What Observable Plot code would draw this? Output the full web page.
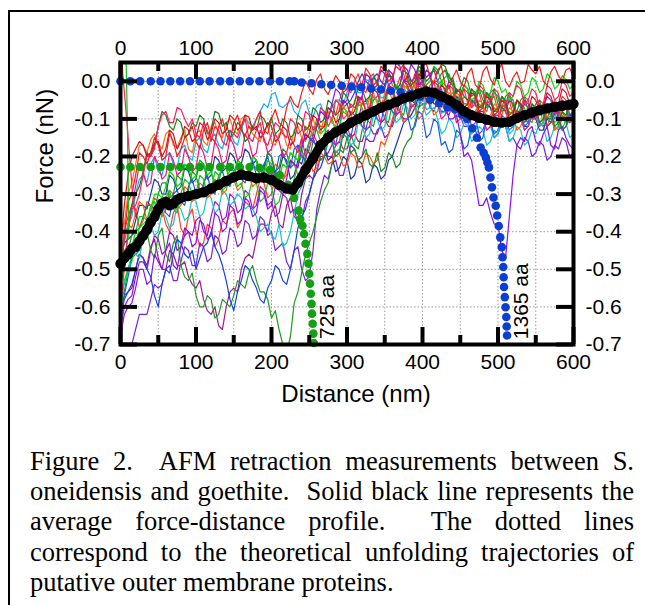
<!DOCTYPE html>
<html><head><meta charset="utf-8">
<script src="https://cdn.jsdelivr.net/npm/d3@7"></script>
<script src="https://cdn.jsdelivr.net/npm/@observablehq/plot@0.6"></script>
<style>
body{margin:0;background:#fff;width:645px;height:605px;overflow:hidden;position:relative}
#frame{position:absolute;left:8px;top:10px;width:700px;height:700px;border-left:2px solid #000;border-top:2px solid #000;box-sizing:border-box}
#chart{position:absolute;left:0;top:0}
#caption{position:absolute;left:30px;top:446px;width:604px;font-family:"Liberation Serif","Times New Roman",serif;font-size:26.5px;line-height:30.2px;color:#000}
#caption div{text-align:justify;text-align-last:justify}
#caption div.last{text-align-last:left}
</style></head><body>
<div id="frame"></div>
<div id="chart"></div>
<div id="caption">
<div>Figure 2.&nbsp; AFM retraction measurements between S.</div>
<div>oneidensis and goethite.&nbsp; Solid black line represents the</div>
<div>average force-distance profile.&nbsp; The dotted lines</div>
<div>correspond to the theoretical unfolding trajectories of</div>
<div class="last">putative outer membrane proteins.</div>
</div>
<script>
// ---- data ----
const distance = [0,10,20,30,40,50,60,70,80,90,100,110,120,130,140,150,160,170,180,190,200,210,220,230,240,250,260,270,280,290,300,310,320,330,340,350,360,370,380,390,400,410,420,430,440,450,460,470,480,490,500,510,520,530,540,550,560,570,580,590,600];
const distanceMid = [5,15,25,35,45,55,65,75,85,95,105,115,125,135,145,155,165,175,185,195,205,215,225,235,245,255,265,275,285,295,305,315,325,335,345,355,365,375,385,395,405,415,425,435,445,455,465,475,485,495,505,515,525,535,545,555,565,575,585,595];
const distanceTicks = [0,100,200,300,400,500,600];
const distanceMinorTicks = [50,150,250,350,450,550];
const gridDistance = [50,100,150,200,250,300,350,400,450,500,550];
const forceTicks = [0,-0.1,-0.2,-0.3,-0.4,-0.5,-0.6,-0.7];
const gridForce = [0,-0.1,-0.2,-0.3,-0.4,-0.5,-0.6];

const forceRed = [-0.55,-0.32,-0.25,-0.2,-0.19,-0.17,-0.2,-0.16,-0.18,-0.14,-0.16,-0.13,-0.15,-0.12,-0.14,-0.11,-0.13,-0.12,-0.1,-0.13,-0.1,-0.11,-0.07,-0.06,-0.03,-0.02,0.005,-0.02,-0.01,0.0,-0.02,0.01,-0.01,0.02,0.0,0.03,0.01,0.03,0.0,0.02,0.04,0.01,0.03,-0.01,0.01,0.0,0.02,-0.01,0.025,0.005,0.03,0.0,0.01,-0.005,0.045,0.02,0.0,0.025,0.015,0.03,0.01];
const forceRedMid = [-0.41,-0.3,-0.19,-0.22,-0.15,-0.21,-0.14,-0.2,-0.15,-0.12,-0.18,-0.11,-0.16,-0.1,-0.16,-0.09,-0.145,-0.13,-0.08,-0.14,-0.075,-0.12,-0.04,-0.07,0.0,-0.035,0.02,-0.035,0.015,-0.03,0.02,-0.02,0.035,-0.01,0.04,0.0,0.04,0.045,-0.015,0.01,0.048,-0.005,0.04,-0.02,0.03,-0.015,0.035,-0.02,0.04,-0.01,0.045,-0.015,0.025,0.0,0.03,0.04,-0.01,0.04,0.0,0.035];
const forceCrimson = [-0.6,-0.4,-0.33,-0.25,-0.2,-0.12,-0.08,-0.11,-0.075,-0.12,-0.14,-0.11,-0.16,-0.13,-0.17,-0.14,-0.12,-0.15,-0.13,-0.16,-0.14,-0.12,-0.15,-0.11,-0.13,-0.09,-0.12,-0.08,-0.1,-0.06,-0.09,-0.07,-0.04,-0.07,-0.03,-0.05,-0.02,-0.04,-0.01,-0.03,0.0,-0.03,-0.01,-0.04,-0.02,-0.05,-0.03,-0.06,-0.02,-0.05,-0.03,-0.06,-0.04,-0.02,-0.05,-0.03,-0.06,-0.02,-0.04,-0.01,-0.03];
const forceCrimsonMid = [-0.5,-0.34,-0.3,-0.2,-0.18,-0.09,-0.11,-0.07,-0.1,-0.1,-0.15,-0.13,-0.12,-0.16,-0.13,-0.15,-0.1,-0.16,-0.11,-0.17,-0.11,-0.14,-0.1,-0.14,-0.08,-0.13,-0.07,-0.12,-0.05,-0.1,-0.06,-0.06,-0.08,-0.02,-0.06,-0.01,-0.05,0.0,-0.04,0.01,-0.04,0.0,-0.05,-0.01,-0.06,-0.02,-0.07,-0.01,-0.06,-0.02,-0.07,-0.03,-0.01,-0.06,-0.02,-0.07,-0.01,-0.05,0.0,-0.04];
const forceDarkRed = [-0.45,-0.25,-0.18,-0.17,-0.19,-0.16,-0.18,-0.14,-0.16,-0.13,-0.15,-0.12,-0.14,-0.11,-0.13,-0.1,-0.12,-0.095,-0.12,-0.14,-0.12,-0.15,-0.13,-0.16,-0.12,-0.14,-0.1,-0.12,-0.08,-0.1,-0.06,-0.08,-0.05,-0.07,-0.03,-0.05,-0.02,-0.04,-0.01,-0.03,0.01,-0.02,-0.04,-0.02,-0.05,-0.03,-0.06,-0.04,-0.07,-0.05,-0.08,-0.06,-0.09,-0.06,-0.08,-0.05,-0.07,-0.04,-0.06,-0.03,-0.05];
const forceDarkRedMid = [-0.33,-0.2,-0.16,-0.2,-0.165,-0.2,-0.13,-0.18,-0.12,-0.16,-0.11,-0.155,-0.1,-0.14,-0.09,-0.13,-0.09,-0.13,-0.15,-0.11,-0.16,-0.12,-0.17,-0.11,-0.155,-0.09,-0.13,-0.07,-0.11,-0.05,-0.09,-0.04,-0.08,-0.02,-0.06,-0.01,-0.05,0.0,-0.04,0.02,-0.03,-0.05,-0.01,-0.06,-0.02,-0.07,-0.03,-0.08,-0.04,-0.09,-0.05,-0.1,-0.05,-0.09,-0.04,-0.08,-0.03,-0.07,-0.02,-0.06];
const forceOrange = [-0.5,-0.3,-0.22,-0.17,-0.155,-0.165,-0.14,-0.17,-0.15,-0.18,-0.14,-0.16,-0.12,-0.14,-0.11,-0.13,-0.1,-0.12,-0.15,-0.13,-0.16,-0.14,-0.17,-0.13,-0.15,-0.11,-0.13,-0.09,-0.11,-0.07,-0.09,-0.05,-0.08,-0.04,-0.06,-0.03,-0.05,-0.02,-0.04,-0.01,-0.03,-0.05,-0.03,-0.06,-0.04,-0.07,-0.05,-0.08,-0.06,-0.09,-0.07,-0.1,-0.08,-0.06,-0.09,-0.07,-0.1,-0.08,-0.06,-0.09,-0.07];
const forceOrangeMid = [-0.38,-0.27,-0.17,-0.19,-0.14,-0.18,-0.13,-0.175,-0.13,-0.19,-0.13,-0.17,-0.11,-0.15,-0.1,-0.14,-0.09,-0.14,-0.16,-0.12,-0.17,-0.13,-0.18,-0.12,-0.16,-0.1,-0.14,-0.08,-0.12,-0.06,-0.1,-0.04,-0.09,-0.03,-0.07,-0.02,-0.06,-0.01,-0.05,0.0,-0.06,-0.02,-0.07,-0.03,-0.08,-0.04,-0.09,-0.05,-0.1,-0.06,-0.11,-0.07,-0.05,-0.1,-0.06,-0.11,-0.07,-0.05,-0.1,-0.06];
const forceOrangeLow = [-0.42,-0.38,-0.35,-0.33,-0.36,-0.32,-0.34,-0.3,-0.33,-0.29,-0.31,-0.28,-0.3,-0.27,-0.29,-0.26,-0.28,-0.25,-0.27,-0.24,-0.26,-0.23,-0.25,-0.22,-0.24,-0.21,-0.23,-0.2,-0.215,-0.195,-0.22,-0.2,-0.225,-0.2,-0.21,-0.17,-0.1,-0.08,-0.1,-0.07,-0.09,-0.06,-0.08,-0.05,-0.07,-0.04,-0.06,-0.09,-0.07,-0.1,-0.08,-0.11,-0.09,-0.12,-0.1,-0.08,-0.11,-0.09,-0.12,-0.1,-0.08];
const forceOrangeLowMid = [-0.37,-0.39,-0.32,-0.37,-0.31,-0.36,-0.29,-0.34,-0.28,-0.32,-0.27,-0.31,-0.26,-0.3,-0.25,-0.29,-0.24,-0.28,-0.23,-0.27,-0.22,-0.26,-0.21,-0.25,-0.2,-0.24,-0.19,-0.22,-0.185,-0.225,-0.19,-0.23,-0.19,-0.22,-0.16,-0.14,-0.07,-0.11,-0.06,-0.1,-0.05,-0.09,-0.04,-0.08,-0.03,-0.07,-0.1,-0.06,-0.11,-0.07,-0.12,-0.08,-0.13,-0.09,-0.07,-0.12,-0.08,-0.13,-0.09,-0.07];
const forceDarkGreen = [-0.55,-0.4,-0.3,-0.24,-0.2,-0.12,-0.09,-0.13,-0.11,-0.14,-0.12,-0.1,-0.13,-0.085,-0.11,-0.14,-0.12,-0.15,-0.13,-0.1,-0.095,-0.13,-0.11,-0.14,-0.1,-0.12,-0.08,-0.1,-0.06,-0.08,-0.04,-0.06,-0.02,-0.04,0.0,-0.02,0.01,-0.01,0.02,0.0,0.03,0.01,0.02,0.04,0.0,-0.02,-0.05,-0.03,-0.06,-0.04,-0.07,-0.05,-0.08,-0.06,-0.09,-0.07,-0.1,-0.08,-0.11,-0.09,-0.07];
const forceDarkGreenMid = [-0.49,-0.33,-0.28,-0.19,-0.17,-0.08,-0.12,-0.1,-0.15,-0.11,-0.09,-0.14,-0.08,-0.12,-0.15,-0.11,-0.16,-0.12,-0.09,-0.12,-0.14,-0.1,-0.15,-0.09,-0.13,-0.07,-0.11,-0.05,-0.09,-0.03,-0.07,-0.01,-0.05,0.01,-0.03,0.02,-0.02,0.03,-0.01,0.04,0.0,0.035,0.045,0.01,-0.03,-0.04,-0.02,-0.07,-0.03,-0.08,-0.04,-0.09,-0.05,-0.1,-0.06,-0.11,-0.07,-0.12,-0.08,-0.06];
const forceGreenDeep = [-0.58,-0.5,-0.46,-0.42,-0.45,-0.41,-0.46,-0.43,-0.49,-0.53,-0.57,-0.6,-0.58,-0.62,-0.59,-0.57,-0.54,-0.51,-0.53,-0.56,-0.63,-0.66,-0.72,-0.59,-0.51,-0.43,-0.36,-0.29,-0.22,-0.18,-0.15,-0.17,-0.13,-0.11,-0.08,-0.1,-0.06,-0.08,-0.04,-0.06,-0.02,-0.04,-0.01,-0.03,-0.05,-0.03,-0.06,-0.04,-0.07,-0.05,-0.08,-0.06,-0.09,-0.07,-0.1,-0.08,-0.11,-0.09,-0.12,-0.1,-0.08];
const forceGreenDeepMid = [-0.56,-0.47,-0.45,-0.4,-0.47,-0.39,-0.48,-0.41,-0.52,-0.51,-0.6,-0.57,-0.63,-0.58,-0.6,-0.53,-0.55,-0.49,-0.56,-0.58,-0.61,-0.7,-0.68,-0.56,-0.46,-0.4,-0.32,-0.27,-0.19,-0.19,-0.14,-0.18,-0.1,-0.12,-0.07,-0.11,-0.05,-0.09,-0.03,-0.07,-0.01,-0.05,0.0,-0.05,-0.02,-0.06,-0.02,-0.07,-0.03,-0.08,-0.04,-0.1,-0.05,-0.11,-0.06,-0.12,-0.07,-0.13,-0.08,-0.11];
const forceBrightGreen = [-0.62,-0.5,-0.43,-0.38,-0.34,-0.3,-0.28,-0.25,-0.27,-0.23,-0.25,-0.22,-0.24,-0.26,-0.23,-0.25,-0.22,-0.24,-0.21,-0.25,-0.22,-0.26,-0.23,-0.2,-0.17,-0.15,-0.11,-0.13,-0.1,-0.12,-0.09,-0.11,-0.07,-0.09,-0.05,-0.07,-0.03,-0.05,-0.02,-0.04,0.0,-0.02,-0.04,-0.01,-0.03,-0.05,-0.02,-0.04,-0.01,-0.03,0.0,-0.02,-0.04,-0.01,-0.03,0.0,-0.02,0.01,-0.01,0.005,-0.01];
const forceBrightGreenMid = [-0.53,-0.48,-0.39,-0.37,-0.3,-0.31,-0.24,-0.28,-0.22,-0.26,-0.21,-0.25,-0.27,-0.22,-0.26,-0.21,-0.25,-0.2,-0.26,-0.21,-0.27,-0.22,-0.19,-0.21,-0.14,-0.14,-0.14,-0.09,-0.13,-0.08,-0.12,-0.06,-0.1,-0.04,-0.08,-0.02,-0.06,-0.01,-0.05,0.01,-0.03,-0.05,0.0,-0.04,-0.06,-0.01,-0.05,0.0,-0.04,0.01,-0.03,-0.05,0.0,-0.04,0.01,-0.03,0.02,-0.02,0.015,-0.02];
const forceGreen2 = [-0.5,-0.44,-0.4,-0.36,-0.33,-0.36,-0.31,-0.34,-0.3,-0.27,-0.3,-0.26,-0.29,-0.25,-0.28,-0.24,-0.27,-0.3,-0.27,-0.31,-0.28,-0.32,-0.29,-0.26,-0.2,-0.16,-0.13,-0.15,-0.1,-0.12,-0.08,-0.1,-0.06,-0.04,-0.07,-0.03,-0.05,-0.02,0.01,-0.01,0.02,0.0,0.03,0.01,-0.01,-0.04,-0.02,-0.05,-0.03,-0.06,-0.04,-0.07,-0.05,-0.08,-0.1,-0.08,-0.11,-0.09,-0.12,-0.1,-0.08];
const forceGreen2Mid = [-0.45,-0.44,-0.36,-0.37,-0.32,-0.35,-0.29,-0.35,-0.26,-0.3,-0.25,-0.3,-0.24,-0.29,-0.23,-0.28,-0.31,-0.26,-0.32,-0.27,-0.33,-0.28,-0.3,-0.22,-0.19,-0.12,-0.16,-0.09,-0.13,-0.07,-0.11,-0.05,-0.06,-0.08,-0.02,-0.06,-0.01,0.0,-0.02,0.03,-0.01,0.04,0.0,0.02,-0.05,-0.01,-0.06,-0.02,-0.07,-0.03,-0.08,-0.04,-0.09,-0.07,-0.11,-0.07,-0.12,-0.08,-0.13,-0.07];
const forceSky = [-0.52,-0.38,-0.3,-0.25,-0.22,-0.24,-0.2,-0.22,-0.18,-0.2,-0.16,-0.18,-0.15,-0.17,-0.14,-0.16,-0.13,-0.11,-0.1,-0.06,-0.035,-0.065,-0.06,-0.08,-0.06,-0.085,-0.065,-0.09,-0.07,-0.05,-0.03,-0.01,-0.03,0.0,-0.02,-0.04,-0.02,-0.05,-0.03,-0.06,-0.04,-0.07,-0.05,-0.08,-0.06,-0.09,-0.11,-0.13,-0.1,-0.12,-0.14,-0.11,-0.13,-0.1,-0.12,-0.09,-0.11,-0.08,-0.1,-0.07,-0.09];
const forceSkyMid = [-0.42,-0.36,-0.26,-0.27,-0.2,-0.25,-0.19,-0.23,-0.17,-0.21,-0.15,-0.19,-0.14,-0.18,-0.13,-0.17,-0.1,-0.12,-0.08,-0.07,-0.03,-0.07,-0.05,-0.09,-0.05,-0.095,-0.06,-0.1,-0.05,-0.06,-0.005,-0.03,0.005,-0.025,-0.045,-0.01,-0.055,-0.02,-0.065,-0.03,-0.075,-0.04,-0.085,-0.05,-0.095,-0.1,-0.14,-0.09,-0.13,-0.15,-0.1,-0.14,-0.09,-0.13,-0.08,-0.12,-0.07,-0.11,-0.06,-0.1];
const forceCyan = [-0.55,-0.5,-0.46,-0.42,-0.38,-0.4,-0.36,-0.38,-0.34,-0.36,-0.32,-0.35,-0.31,-0.34,-0.3,-0.32,-0.31,-0.33,-0.36,-0.39,-0.41,-0.38,-0.43,-0.35,-0.28,-0.22,-0.18,-0.2,-0.16,-0.18,-0.14,-0.16,-0.12,-0.14,-0.1,-0.12,-0.08,-0.1,-0.07,-0.09,-0.06,-0.08,-0.1,-0.13,-0.11,-0.14,-0.12,-0.15,-0.13,-0.16,-0.14,-0.12,-0.15,-0.13,-0.16,-0.14,-0.12,-0.15,-0.13,-0.11,-0.14];
const forceCyanMid = [-0.54,-0.46,-0.47,-0.39,-0.41,-0.35,-0.39,-0.33,-0.37,-0.31,-0.36,-0.3,-0.35,-0.29,-0.33,-0.3,-0.34,-0.34,-0.4,-0.38,-0.42,-0.44,-0.4,-0.3,-0.26,-0.19,-0.21,-0.15,-0.19,-0.13,-0.17,-0.11,-0.15,-0.09,-0.13,-0.07,-0.11,-0.06,-0.1,-0.05,-0.09,-0.07,-0.14,-0.1,-0.15,-0.11,-0.16,-0.12,-0.17,-0.13,-0.11,-0.16,-0.12,-0.17,-0.13,-0.11,-0.16,-0.12,-0.1,-0.15];
const forceBlue = [-0.64,-0.56,-0.5,-0.47,-0.52,-0.6,-0.5,-0.46,-0.43,-0.47,-0.5,-0.44,-0.4,-0.46,-0.53,-0.61,-0.53,-0.5,-0.55,-0.59,-0.53,-0.5,-0.54,-0.45,-0.36,-0.3,-0.24,-0.2,-0.15,-0.1,-0.06,-0.03,0.02,-0.01,0.02,-0.01,0.01,-0.02,0.0,-0.03,-0.01,-0.04,-0.06,-0.08,-0.06,-0.09,-0.07,-0.1,-0.08,-0.11,-0.09,-0.12,-0.1,-0.08,-0.11,-0.09,-0.12,-0.1,-0.08,-0.11,-0.09];
const forceBlueMid = [-0.58,-0.54,-0.46,-0.5,-0.57,-0.54,-0.51,-0.42,-0.46,-0.45,-0.47,-0.43,-0.44,-0.49,-0.58,-0.56,-0.49,-0.53,-0.58,-0.55,-0.49,-0.53,-0.5,-0.39,-0.34,-0.26,-0.23,-0.16,-0.13,-0.07,-0.05,0.0,0.0,0.01,0.0,0.015,-0.02,0.0,-0.02,0.0,-0.03,-0.03,-0.08,-0.06,-0.08,-0.07,-0.09,-0.08,-0.1,-0.09,-0.11,-0.1,-0.08,-0.1,-0.09,-0.11,-0.1,-0.08,-0.1,-0.09];
const forceNavy = [-0.48,-0.42,-0.37,-0.33,-0.3,-0.27,-0.3,-0.26,-0.28,-0.24,-0.26,-0.22,-0.25,-0.21,-0.23,-0.2,-0.22,-0.19,-0.21,-0.23,-0.2,-0.24,-0.21,-0.25,-0.22,-0.19,-0.21,-0.18,-0.2,-0.23,-0.21,-0.25,-0.22,-0.26,-0.23,-0.25,-0.2,-0.14,-0.1,-0.07,-0.05,-0.03,-0.06,-0.04,-0.07,-0.05,-0.08,-0.06,-0.09,-0.07,-0.1,-0.08,-0.11,-0.09,-0.12,-0.1,-0.13,-0.11,-0.09,-0.12,-0.1];
const forceNavyMid = [-0.43,-0.41,-0.33,-0.34,-0.26,-0.3,-0.25,-0.29,-0.23,-0.27,-0.21,-0.26,-0.2,-0.24,-0.19,-0.23,-0.18,-0.22,-0.24,-0.19,-0.25,-0.2,-0.26,-0.21,-0.18,-0.22,-0.17,-0.21,-0.24,-0.2,-0.26,-0.21,-0.27,-0.22,-0.26,-0.21,-0.17,-0.11,-0.09,-0.04,-0.04,-0.06,-0.03,-0.07,-0.04,-0.08,-0.05,-0.09,-0.06,-0.1,-0.07,-0.11,-0.08,-0.12,-0.09,-0.13,-0.1,-0.08,-0.13,-0.09];
const forceBlue2 = [-0.6,-0.52,-0.45,-0.4,-0.36,-0.33,-0.35,-0.3,-0.32,-0.28,-0.3,-0.27,-0.29,-0.25,-0.27,-0.24,-0.26,-0.23,-0.25,-0.22,-0.24,-0.2,-0.22,-0.18,-0.2,-0.16,-0.18,-0.14,-0.16,-0.12,-0.14,-0.1,-0.12,-0.08,-0.1,-0.06,-0.08,-0.05,-0.09,-0.12,-0.09,-0.14,-0.11,-0.16,-0.18,-0.14,-0.17,-0.13,-0.15,-0.11,-0.13,-0.1,-0.12,-0.09,-0.11,-0.08,-0.1,-0.07,-0.09,-0.06,-0.08];
const forceBlue2Mid = [-0.57,-0.47,-0.44,-0.37,-0.37,-0.31,-0.36,-0.29,-0.33,-0.26,-0.31,-0.25,-0.3,-0.24,-0.28,-0.22,-0.27,-0.21,-0.26,-0.2,-0.25,-0.19,-0.23,-0.17,-0.21,-0.15,-0.19,-0.13,-0.17,-0.11,-0.15,-0.09,-0.13,-0.07,-0.11,-0.05,-0.09,-0.04,-0.13,-0.08,-0.15,-0.1,-0.17,-0.19,-0.13,-0.18,-0.12,-0.16,-0.1,-0.14,-0.09,-0.13,-0.08,-0.12,-0.07,-0.11,-0.06,-0.1,-0.05,-0.09];
const forcePurple = [-0.68,-0.6,-0.55,-0.5,-0.53,-0.48,-0.45,-0.49,-0.44,-0.4,-0.43,-0.38,-0.41,-0.36,-0.39,-0.34,-0.37,-0.32,-0.35,-0.3,-0.33,-0.29,-0.26,-0.22,-0.18,-0.15,-0.12,-0.09,-0.06,-0.03,-0.05,-0.02,-0.04,0.01,-0.01,0.02,0.0,0.04,0.01,0.03,0.0,0.02,-0.03,-0.06,-0.1,-0.14,-0.19,-0.27,-0.33,-0.35,-0.38,-0.47,-0.25,-0.15,-0.13,-0.16,-0.14,-0.17,-0.13,-0.15,-0.18];
const forcePurpleMid = [-0.62,-0.59,-0.5,-0.54,-0.46,-0.5,-0.43,-0.5,-0.41,-0.44,-0.37,-0.42,-0.35,-0.4,-0.33,-0.38,-0.31,-0.36,-0.29,-0.34,-0.28,-0.3,-0.21,-0.23,-0.14,-0.16,-0.08,-0.1,-0.02,-0.06,-0.01,-0.05,0.02,-0.02,0.03,-0.01,0.05,0.0,0.045,-0.01,0.03,-0.04,-0.02,-0.1,-0.09,-0.2,-0.21,-0.33,-0.31,-0.38,-0.45,-0.36,-0.17,-0.16,-0.12,-0.17,-0.12,-0.18,-0.12,-0.17];
const forceViolet = [-0.75,-0.7,-0.66,-0.62,-0.58,-0.55,-0.5,-0.53,-0.48,-0.45,-0.49,-0.44,-0.47,-0.42,-0.45,-0.4,-0.43,-0.38,-0.41,-0.37,-0.4,-0.44,-0.48,-0.45,-0.5,-0.52,-0.34,-0.25,-0.22,-0.25,-0.21,-0.18,-0.2,-0.16,-0.13,-0.15,-0.11,-0.08,-0.1,-0.06,-0.04,-0.07,-0.05,-0.08,-0.06,-0.09,-0.12,-0.1,-0.13,-0.11,-0.14,-0.12,-0.15,-0.18,-0.16,-0.19,-0.17,-0.2,-0.18,-0.16,-0.19];
const forceVioletMid = [-0.7,-0.7,-0.62,-0.62,-0.54,-0.54,-0.49,-0.53,-0.44,-0.49,-0.43,-0.48,-0.41,-0.46,-0.39,-0.44,-0.37,-0.42,-0.36,-0.41,-0.45,-0.43,-0.5,-0.44,-0.53,-0.45,-0.29,-0.26,-0.21,-0.25,-0.17,-0.21,-0.15,-0.16,-0.12,-0.14,-0.07,-0.11,-0.05,-0.07,-0.03,-0.08,-0.04,-0.09,-0.05,-0.12,-0.09,-0.14,-0.1,-0.15,-0.11,-0.16,-0.17,-0.15,-0.2,-0.16,-0.21,-0.17,-0.15,-0.2];
const forceMagenta = [-0.62,-0.56,-0.5,-0.47,-0.44,-0.47,-0.5,-0.46,-0.49,-0.52,-0.55,-0.58,-0.62,-0.65,-0.6,-0.55,-0.5,-0.46,-0.42,-0.38,-0.35,-0.38,-0.33,-0.36,-0.3,-0.25,-0.21,-0.18,-0.2,-0.16,-0.18,-0.14,-0.16,-0.12,-0.14,-0.1,-0.12,-0.08,-0.1,-0.06,-0.03,-0.05,-0.02,-0.04,-0.07,-0.05,-0.08,-0.06,-0.09,-0.07,-0.1,-0.08,-0.06,-0.09,-0.07,-0.1,-0.08,-0.11,-0.09,-0.07,-0.1];
const forceMagentaMid = [-0.57,-0.55,-0.46,-0.49,-0.42,-0.5,-0.45,-0.49,-0.48,-0.54,-0.53,-0.61,-0.6,-0.66,-0.56,-0.56,-0.47,-0.47,-0.38,-0.4,-0.33,-0.39,-0.31,-0.37,-0.26,-0.26,-0.18,-0.2,-0.17,-0.18,-0.15,-0.16,-0.13,-0.14,-0.11,-0.12,-0.09,-0.1,-0.07,-0.04,-0.05,-0.02,-0.05,-0.06,-0.04,-0.08,-0.05,-0.09,-0.06,-0.1,-0.07,-0.05,-0.09,-0.06,-0.1,-0.07,-0.12,-0.08,-0.06,-0.11];
const forcePurple2 = [-0.66,-0.58,-0.52,-0.48,-0.45,-0.42,-0.45,-0.41,-0.44,-0.4,-0.37,-0.4,-0.36,-0.33,-0.36,-0.31,-0.34,-0.3,-0.33,-0.29,-0.32,-0.35,-0.31,-0.34,-0.37,-0.3,-0.24,-0.2,-0.17,-0.14,-0.12,-0.09,-0.06,-0.08,-0.04,-0.01,0.02,-0.01,0.03,0.01,0.05,0.02,0.0,-0.03,-0.01,-0.04,-0.02,-0.05,-0.03,-0.06,-0.04,-0.07,-0.05,-0.08,-0.06,-0.09,-0.07,-0.05,-0.08,-0.06,-0.04];
const forcePurple2Mid = [-0.6,-0.57,-0.48,-0.5,-0.41,-0.46,-0.4,-0.45,-0.39,-0.41,-0.36,-0.41,-0.32,-0.37,-0.3,-0.35,-0.29,-0.34,-0.28,-0.33,-0.36,-0.3,-0.35,-0.38,-0.32,-0.26,-0.2,-0.19,-0.13,-0.15,-0.08,-0.1,-0.05,-0.05,-0.03,0.03,-0.02,0.04,0.0,0.045,0.01,0.03,-0.04,0.0,-0.05,-0.01,-0.06,-0.02,-0.07,-0.03,-0.08,-0.04,-0.09,-0.05,-0.1,-0.06,-0.04,-0.09,-0.05,-0.07];
const forcePink = [-0.5,-0.36,-0.28,-0.24,-0.27,-0.22,-0.25,-0.21,-0.24,-0.2,-0.23,-0.19,-0.22,-0.18,-0.21,-0.17,-0.2,-0.16,-0.19,-0.15,-0.18,-0.16,-0.19,-0.17,-0.15,-0.18,-0.16,-0.17,-0.14,-0.16,-0.12,-0.14,-0.1,-0.12,-0.08,-0.1,-0.06,-0.08,-0.04,-0.06,-0.02,-0.04,-0.06,-0.09,-0.07,-0.1,-0.08,-0.11,-0.09,-0.12,-0.1,-0.08,-0.11,-0.09,-0.12,-0.1,-0.08,-0.11,-0.09,-0.07,-0.1];
const forcePinkMid = [-0.4,-0.33,-0.22,-0.28,-0.2,-0.26,-0.19,-0.25,-0.18,-0.24,-0.17,-0.23,-0.16,-0.22,-0.15,-0.21,-0.14,-0.2,-0.13,-0.19,-0.14,-0.2,-0.15,-0.19,-0.2,-0.14,-0.19,-0.13,-0.17,-0.11,-0.15,-0.09,-0.13,-0.07,-0.11,-0.05,-0.09,-0.03,-0.07,-0.01,-0.05,-0.03,-0.1,-0.06,-0.11,-0.07,-0.12,-0.08,-0.13,-0.09,-0.07,-0.12,-0.08,-0.13,-0.09,-0.07,-0.12,-0.08,-0.06,-0.11];
const forceTomato = [-0.45,-0.38,-0.34,-0.37,-0.33,-0.36,-0.38,-0.35,-0.39,-0.36,-0.4,-0.43,-0.39,-0.42,-0.38,-0.34,-0.37,-0.33,-0.3,-0.27,-0.3,-0.26,-0.23,-0.2,-0.16,-0.13,-0.1,-0.12,-0.08,-0.05,-0.02,0.0,-0.02,0.01,-0.01,0.02,-0.01,0.01,-0.02,0.0,-0.03,-0.01,-0.04,-0.02,-0.05,-0.03,-0.06,-0.04,-0.07,-0.05,-0.08,-0.06,-0.09,-0.07,-0.05,-0.08,-0.06,-0.09,-0.07,-0.05,-0.08];
const forceTomatoMid = [-0.43,-0.33,-0.39,-0.32,-0.37,-0.34,-0.4,-0.33,-0.41,-0.34,-0.44,-0.38,-0.44,-0.37,-0.35,-0.39,-0.32,-0.34,-0.26,-0.31,-0.25,-0.27,-0.19,-0.21,-0.12,-0.14,-0.12,-0.07,-0.09,-0.02,-0.03,0.02,-0.03,0.02,-0.02,0.03,-0.02,0.02,-0.03,0.01,-0.04,0.0,-0.05,-0.01,-0.06,-0.02,-0.07,-0.03,-0.08,-0.04,-0.09,-0.05,-0.1,-0.04,-0.09,-0.05,-0.1,-0.06,-0.04,-0.09];
const forceGreen3 = [-0.52,-0.45,-0.4,-0.36,-0.33,-0.3,-0.27,-0.3,-0.26,-0.29,-0.25,-0.28,-0.24,-0.27,-0.23,-0.26,-0.22,-0.25,-0.21,-0.24,-0.2,-0.23,-0.19,-0.22,-0.18,-0.21,-0.17,-0.2,-0.16,-0.19,-0.15,-0.18,-0.2,-0.22,-0.19,-0.23,-0.2,-0.22,-0.16,-0.11,-0.06,-0.03,0.0,0.03,0.01,-0.02,0.0,-0.03,-0.05,-0.03,-0.06,-0.04,-0.07,-0.05,-0.08,-0.06,-0.09,-0.07,-0.1,-0.12,-0.09];
const forceGreen3Mid = [-0.5,-0.41,-0.39,-0.33,-0.34,-0.27,-0.31,-0.25,-0.3,-0.24,-0.29,-0.23,-0.28,-0.22,-0.27,-0.21,-0.26,-0.2,-0.25,-0.19,-0.24,-0.18,-0.23,-0.17,-0.22,-0.16,-0.21,-0.15,-0.2,-0.14,-0.19,-0.21,-0.18,-0.23,-0.24,-0.19,-0.23,-0.18,-0.15,-0.07,-0.06,0.0,0.02,0.0,-0.03,0.01,-0.04,-0.02,-0.06,-0.02,-0.07,-0.03,-0.08,-0.04,-0.09,-0.05,-0.1,-0.06,-0.13,-0.1];

const contactPinkX = [1,3,6,9,12,16,20];
const contactPinkF = [0.1,0.02,-0.05,-0.12,-0.2,-0.3,-0.36];
const contactGreenX = [7,8,9,10,11];
const contactGreenF = [0.1,0.0,-0.1,-0.25,-0.42];
const contactMagentaX = [0.5,1,1.5];
const contactMagentaF = [0.1,-0.3,-0.75];

const avgX = [0,5,10,15,20,25,30,35,40,45,50,55,60,65,70,75,80,90,100,110,120,130,140,150,160,170,180,190,200,210,220,228,235,245,255,265,275,285,295,305,315,325,335,345,355,365,375,385,395,405,415,425,435,445,455,465,475,485,495,505,515,525,535,545,555,565,575,585,595,600];
const avgF = [-0.485,-0.47,-0.46,-0.445,-0.44,-0.425,-0.41,-0.395,-0.375,-0.36,-0.34,-0.325,-0.32,-0.33,-0.325,-0.315,-0.31,-0.305,-0.3,-0.295,-0.285,-0.275,-0.265,-0.255,-0.248,-0.252,-0.258,-0.256,-0.262,-0.275,-0.285,-0.288,-0.27,-0.235,-0.205,-0.17,-0.15,-0.135,-0.125,-0.11,-0.1,-0.09,-0.08,-0.07,-0.063,-0.055,-0.045,-0.04,-0.032,-0.027,-0.03,-0.04,-0.05,-0.063,-0.08,-0.09,-0.097,-0.102,-0.108,-0.11,-0.108,-0.098,-0.09,-0.083,-0.077,-0.072,-0.068,-0.065,-0.062,-0.06];

const wlcBlueX = [0,13,26,40,53,66,79,92,105,118,132,145,158,171,184,198,211,224,230,240,253,266,279,293,306,319,332,345,358,371,384,397,410,422,433,443,452,459,466,472,477,481,484,486,488,490,492,494,497,499,501,503,505,506,507,507.5,508,509,510,511,511.5,512];
const wlcBlueF = [0,0,0,0,0,0,0,0,0,0,0,0,0,0,0,0,0,0,0,-0.003,-0.005,-0.008,-0.01,-0.012,-0.014,-0.016,-0.019,-0.022,-0.025,-0.029,-0.034,-0.04,-0.049,-0.058,-0.069,-0.075,-0.088,-0.1,-0.125,-0.15,-0.176,-0.19,-0.203,-0.216,-0.229,-0.256,-0.282,-0.309,-0.331,-0.357,-0.385,-0.415,-0.441,-0.468,-0.494,-0.521,-0.547,-0.574,-0.601,-0.627,-0.652,-0.676];
const wlcGreenX = [0,13,26,40,53,66,79,92,105,118,132,145,158,171,184,198,211,222,230,236,238,241,243,245,247.5,249,250,251,252,253,253.6,254.5,255.4,256];
const wlcGreenF = [-0.228,-0.228,-0.228,-0.228,-0.228,-0.228,-0.228,-0.228,-0.228,-0.228,-0.228,-0.228,-0.228,-0.228,-0.23,-0.236,-0.25,-0.275,-0.31,-0.344,-0.366,-0.384,-0.406,-0.432,-0.459,-0.485,-0.512,-0.538,-0.565,-0.592,-0.618,-0.645,-0.671,-0.696];

const annotX = [274,531];
const annotF = [-0.6,-0.585];
const annotText = ["725 aa","1365 aa"];

// ---- build ----
const W = 645, H = 420, ML = 120, MR = 72, MT = 62, MB = 76;
const fw = W - ML - MR, fh = H - MT - MB;
const pts = (xs, fs) => fs.map((f, i) => ({x: xs[i], y: f})).filter(d => d.x != null);
const merged = (a, b) => pts(distance, a).concat(pts(distanceMid, b)).sort((p, q) => p.x - q.x);
const traces = [
  [forceTomato, forceTomatoMid, "#ff3a2a"], [forceMagenta, forceMagentaMid, "#a01a8c"], [forceViolet, forceVioletMid, "#7a22d8"],
  [forcePurple2, forcePurple2Mid, "#9414c4"], [forceGreenDeep, forceGreenDeepMid, "#1f9a1f"], [forceBlue, forceBlueMid, "#1244e0"],
  [forceCyan, forceCyanMid, "#12c4cc"], [forceNavy, forceNavyMid, "#1c3a9e"], [forceOrangeLow, forceOrangeLowMid, "#ff5a00"],
  [forceGreen3, forceGreen3Mid, "#2a8a2a"], [forceBlue2, forceBlue2Mid, "#1c5ae6"], [forceGreen2, forceGreen2Mid, "#14c414"],
  [forceBrightGreen, forceBrightGreenMid, "#00e000"], [forceSky, forceSkyMid, "#12aef0"], [forcePink, forcePinkMid, "#f0147a"],
  [forceOrange, forceOrangeMid, "#ff6e10"], [forceDarkGreen, forceDarkGreenMid, "#1b7a1b"], [forceDarkRed, forceDarkRedMid, "#c8141c"],
  [forceCrimson, forceCrimsonMid, "#ff1a5c"], [forcePurple, forcePurpleMid, "#8412f0"], [forceRed, forceRedMid, "#ee1c1c"]
];
const spikes = [[contactMagentaX, contactMagentaF, "#b0107a"], [contactPinkX, contactPinkF, "#ff1a6a"], [contactGreenX, contactGreenF, "#10c010"]];
const avg = pts(avgX, avgF);
const annots = annotText.map((t, i) => ({x: annotX[i], y: annotF[i], t}));
const font = '"Liberation Sans", Arial, sans-serif';
const grid = {stroke: "#9a9a9a", strokeOpacity: 1, strokeWidth: 1, strokeDasharray: "1.5,2"};

const chart = Plot.plot({
  width: W, height: H,
  marginTop: MT, marginRight: MR, marginBottom: MB, marginLeft: ML,
  x: {domain: [0, 600], axis: null},
  y: {domain: [-0.7, 0.05], axis: null},
  style: {fontFamily: font, fontSize: "21px", background: "transparent", color: "black"},
  marks: [
    Plot.ruleX(gridDistance, {x: d => d, ...grid}),
    Plot.ruleY(gridForce, {y: d => d, ...grid}),
    ...traces.map(([a, b, c]) => Plot.line(merged(a, b), {x: "x", y: "y", stroke: c, strokeWidth: 1.2, clip: true})),
    ...spikes.map(([xs, fs, c]) => Plot.line(pts(xs, fs), {x: "x", y: "y", stroke: c, strokeWidth: 1.2, clip: true})),
    Plot.dot(pts(wlcGreenX, wlcGreenF), {x: "x", y: "y", r: 4.3, fill: "#14a014", stroke: "none"}),
    Plot.dot(pts(wlcBlueX, wlcBlueF), {x: "x", y: "y", r: 4.3, fill: "#0b3fd4", stroke: "none"}),
    Plot.line(avg, {x: "x", y: "y", stroke: "black", strokeWidth: 9, strokeLinejoin: "round", strokeLinecap: "round"}),
    Plot.dot(avg, {x: "x", y: "y", r: 5.2, fill: "black", stroke: "none"}),
    Plot.text(annots, {x: "x", y: "y", text: "t", rotate: -90, fontSize: 21, fontFamily: font, fill: "black"}),
    Plot.frame({stroke: "black", strokeWidth: 4}),
    Plot.tickX(distanceTicks, {x: d => d, insetTop: fh - 17, strokeWidth: 4, stroke: "black"}),
    Plot.tickX(distanceMinorTicks, {x: d => d, insetTop: fh - 9, strokeWidth: 4, stroke: "black"}),
    Plot.tickX(distanceTicks, {x: d => d, insetBottom: fh - 17, strokeWidth: 4, stroke: "black"}),
    Plot.tickX(distanceMinorTicks, {x: d => d, insetBottom: fh - 9, strokeWidth: 4, stroke: "black"}),
    Plot.tickY(forceTicks, {y: d => d, insetRight: fw - 17, strokeWidth: 4, stroke: "black"}),
    Plot.tickY(forceTicks, {y: d => d, insetLeft: fw - 17, strokeWidth: 4, stroke: "black"}),
    Plot.text(distanceTicks, {x: d => d, frameAnchor: "bottom", dy: 24, text: d => String(d), fontSize: 21, fontFamily: font, fill: "black"}),
    Plot.text(distanceTicks, {x: d => d, frameAnchor: "top", dy: -22, text: d => String(d), fontSize: 21, fontFamily: font, fill: "black"}),
    Plot.text(forceTicks, {y: d => d, frameAnchor: "left", dx: -10, textAnchor: "end", text: d => d.toFixed(1), fontSize: 21, fontFamily: font, fill: "black"}),
    Plot.text(forceTicks, {y: d => d, frameAnchor: "right", dx: 12, textAnchor: "start", text: d => d.toFixed(1), fontSize: 21, fontFamily: font, fill: "black"}),
    Plot.text(["Force (nN)"], {frameAnchor: "left", dx: -75, rotate: -90, text: d => d, fontSize: 24, fontFamily: font, fill: "black"}),
    Plot.text(["Distance (nm)"], {frameAnchor: "bottom", dy: 57, dx: 9, text: d => d, fontSize: 24, fontFamily: font, fill: "black"})
  ]
});
document.getElementById("chart").appendChild(chart);
</script>
</body></html>
